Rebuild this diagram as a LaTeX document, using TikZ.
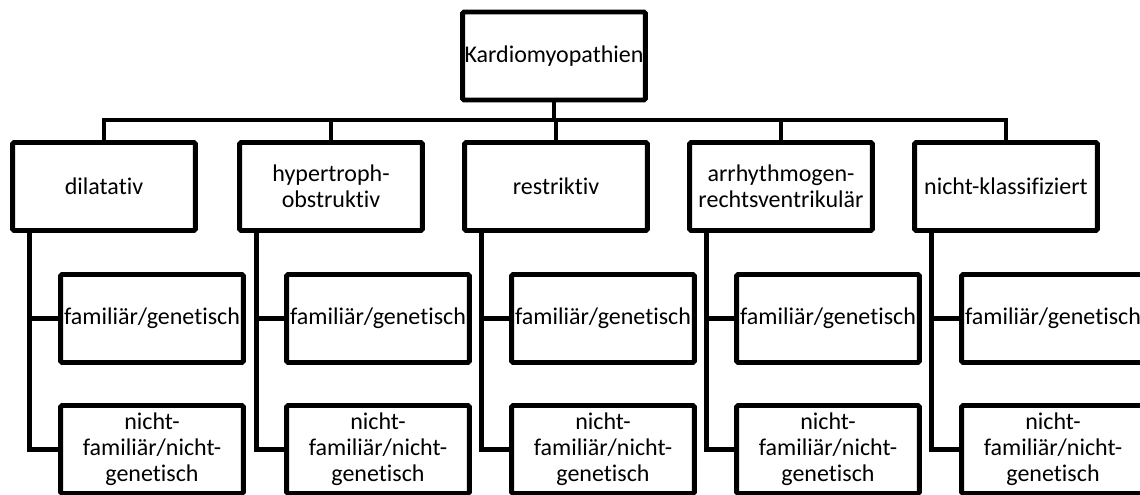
\documentclass[tikz,border=0pt]{standalone}
\usepackage{fontspec}
\setmainfont{Carlito}[Ligatures=NoCommon]
\begin{document}
\begin{tikzpicture}[x=0.75pt,y=-0.75pt,
    font=\fontsize{18pt}{19.5pt}\selectfont,
    box/.style={draw,line width=3.7pt,rounded corners=1pt,align=center,inner sep=0pt,
      minimum width=137pt,minimum height=66pt},
    link/.style={line width=3.7pt}]
      \useasboundingbox (0,0) rectangle (1140,495);
      \clip (0,0) rectangle (1140,495);
      \node[box] (kardio) at (554,56) {Kardiomyopathien};
      \node[box] (dil) at (104,186.5) {dilatativ};
      \node[box] (hyp) at (331,186.5) {hypertroph-\\obstruktiv};
      \node[box] (res) at (556,186.5) {restriktiv};
      \node[box] (arv) at (781,186.5) {arrhythmogen-\\rechtsventrikulär};
      \node[box] (nk) at (1006,186.5) {nicht-klassifiziert};
      \node[box] (dilF) at (152,318.5) {familiär/genetisch};
      \node[box] (hypF) at (378,318.5) {familiär/genetisch};
      \node[box] (resF) at (603,318.5) {familiär/genetisch};
      \node[box] (arvF) at (828,318.5) {familiär/genetisch};
      \node[box] (nkF) at (1053,318.5) {familiär/genetisch};
      \node[box] (dilN) at (152,449.5) {nicht-\\familiär/nicht-\\genetisch};
      \node[box] (hypN) at (378,449.5) {nicht-\\familiär/nicht-\\genetisch};
      \node[box] (resN) at (603,449.5) {nicht-\\familiär/nicht-\\genetisch};
      \node[box] (arvN) at (828,449.5) {nicht-\\familiär/nicht-\\genetisch};
      \node[box] (nkN) at (1053,449.5) {nicht-\\familiär/nicht-\\genetisch};
      \coordinate (bus) at (554,120);
      \begin{scope}[link]
        \draw (kardio) -- (bus);
        \draw (bus) -| (dil.north);
        \draw (bus) -| (hyp.north);
        \draw (bus) -| (res.north);
        \draw (bus) -| (arv.north);
        \draw (bus) -| (nk.north);
        \draw (dil.south west) ++(19,0) |- (dilF.west);
        \draw (dil.south west) ++(19,0) |- (dilN.west);
        \draw (hyp.south west) ++(19,0) |- (hypF.west);
        \draw (hyp.south west) ++(19,0) |- (hypN.west);
        \draw (res.south west) ++(19,0) |- (resF.west);
        \draw (res.south west) ++(19,0) |- (resN.west);
        \draw (arv.south west) ++(19,0) |- (arvF.west);
        \draw (arv.south west) ++(19,0) |- (arvN.west);
        \draw (nk.south west) ++(19,0) |- (nkF.west);
        \draw (nk.south west) ++(19,0) |- (nkN.west);
      \end{scope}
    \end{tikzpicture}
\end{document}
